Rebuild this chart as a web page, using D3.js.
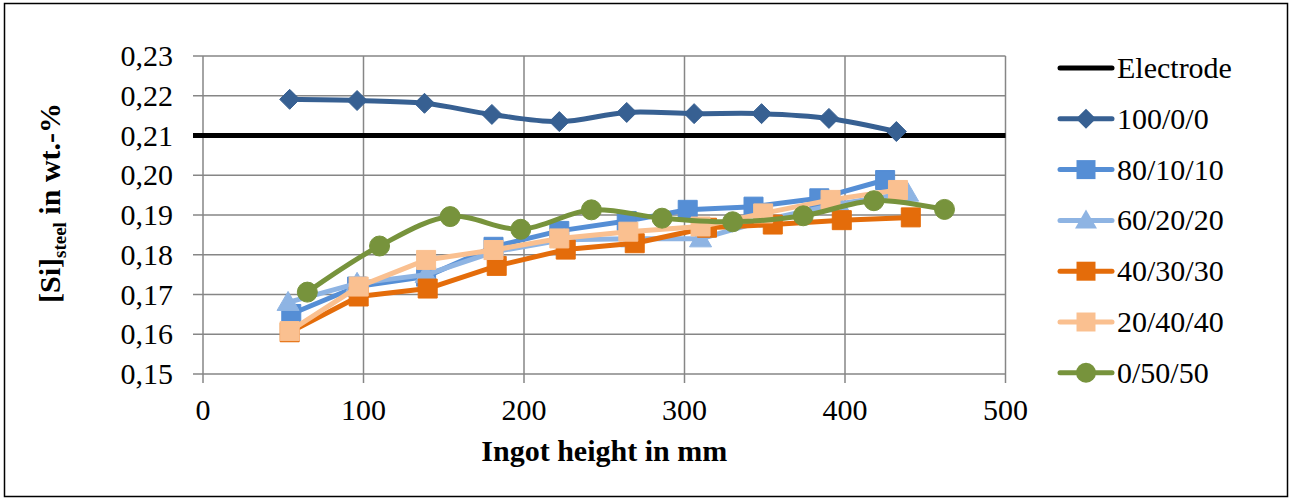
<!DOCTYPE html>
<html><head><meta charset="utf-8">
<script src="https://cdn.jsdelivr.net/npm/d3@7/dist/d3.min.js"></script>
<style>body{margin:0;background:#fff}svg{display:block}</style>
</head><body><svg id="c" width="1292" height="501"></svg>
<script>
// ---- data ----
const xTicks = [0, 100, 200, 300, 400, 500];
const yTicks = [0.15, 0.16, 0.17, 0.18, 0.19, 0.20, 0.21, 0.22, 0.23];
const electrodeX = [0, 500];
const electrodeY = [0.21, 0.21];
const x100_0_0 = [54, 96, 138, 180, 222, 264, 306, 348, 390, 432];
const y100_0_0 = [0.2191, 0.2188, 0.2181, 0.2153, 0.2135, 0.2158, 0.2155, 0.2155, 0.2143, 0.2110];
const x80_10_10 = [55, 96, 139, 181, 222, 264, 302, 343, 384, 425];
const y80_10_10 = [0.1651, 0.1720, 0.1745, 0.1820, 0.1860, 0.1885, 0.1913, 0.1921, 0.1942, 0.1988];
const x60_20_20 = [53, 96, 139, 182, 225, 267, 310, 353, 396, 439];
const y60_20_20 = [0.1680, 0.1728, 0.1750, 0.1808, 0.1838, 0.1840, 0.1840, 0.1890, 0.1928, 0.1955];
const x40_30_30 = [54, 97, 140, 183, 226, 269, 314, 355, 398, 441];
const y40_30_30 = [0.1605, 0.1695, 0.1715, 0.1772, 0.1813, 0.1829, 0.1868, 0.1876, 0.1887, 0.1894];
const x20_40_40 = [54, 97, 139, 181, 222, 265, 310, 349, 391, 433];
const y20_40_40 = [0.1608, 0.1720, 0.1787, 0.1812, 0.1841, 0.1858, 0.1871, 0.1904, 0.1938, 0.1963];
const x0_50_50 = [65, 110, 154, 198, 242, 286, 330, 374, 418, 462];
const y0_50_50 = [0.1706, 0.1822, 0.1896, 0.1864, 0.1913, 0.1892, 0.1883, 0.1898, 0.1936, 0.1914];
const legendLabels = ["Electrode", "100/0/0", "80/10/10", "60/20/20", "40/30/30", "20/40/40", "0/50/50"];

// ---- series table built from arrays ----
const series = [
  {name: legendLabels[0], xs: electrodeX, ys: electrodeY, color: "#000000", marker: "none", smooth: false},
  {name: legendLabels[1], xs: x100_0_0, ys: y100_0_0, color: "#376092", marker: "diamond", smooth: true},
  {name: legendLabels[2], xs: x80_10_10, ys: y80_10_10, color: "#558ED5", marker: "square", smooth: false},
  {name: legendLabels[3], xs: x60_20_20, ys: y60_20_20, color: "#8EB4E3", marker: "triangle", smooth: false},
  {name: legendLabels[4], xs: x40_30_30, ys: y40_30_30, color: "#E46C0A", marker: "square", smooth: false},
  {name: legendLabels[5], xs: x20_40_40, ys: y20_40_40, color: "#FAC090", marker: "square", smooth: false},
  {name: legendLabels[6], xs: x0_50_50, ys: y0_50_50, color: "#77933C", marker: "circle", smooth: true}
];

const svg = d3.select("#c");
const FONT = "'Liberation Serif','Times New Roman',serif";
const grid = "#868686";

svg.append("rect").attr("x", 4.5).attr("y", 3.5).attr("width", 1283).attr("height", 493)
  .attr("fill", "#fff").attr("stroke", "#000").attr("stroke-width", 1.5);

const x = d3.scaleLinear().domain([0, 500]).range([203, 1005.5]);
const y = d3.scaleLinear().domain([0.15, 0.23]).range([374, 56]);

// gridlines
const g = svg.append("g");
g.selectAll(".hg").data(yTicks).join("line")
  .attr("x1", x(0) - 10).attr("x2", x(500))
  .attr("y1", d => y(d)).attr("y2", d => y(d))
  .attr("stroke", grid).attr("stroke-width", 1.5);
g.selectAll(".vg").data(xTicks).join("line")
  .attr("x1", d => x(d)).attr("x2", d => x(d))
  .attr("y1", y(0.23)).attr("y2", y(0.15) + 9)
  .attr("stroke", grid).attr("stroke-width", 1.5);

// tick labels
g.selectAll(".yl").data(yTicks).join("text")
  .attr("x", 173).attr("y", d => y(d) + 10)
  .attr("text-anchor", "end").attr("font-family", FONT).attr("font-size", 30)
  .text(d => d3.format(".2f")(d).replace(".", ","));
g.selectAll(".xl").data(xTicks).join("text")
  .attr("x", d => x(d)).attr("y", 420)
  .attr("text-anchor", "middle").attr("font-family", FONT).attr("font-size", 30)
  .text(d => d);

// axis titles
svg.append("text").attr("x", x(250)).attr("y", 461)
  .attr("text-anchor", "middle").attr("font-family", FONT).attr("font-size", 30)
  .attr("font-weight", "bold").text("Ingot height in mm");
const yt = svg.append("text")
  .attr("transform", "translate(60,203) rotate(-90)")
  .attr("text-anchor", "middle").attr("font-family", FONT).attr("font-size", 30)
  .attr("font-weight", "bold");
yt.append("tspan").text("[Si]");
yt.append("tspan").attr("font-size", 19).attr("dy", 6).text("steel");
yt.append("tspan").attr("dy", -6).text(" in wt.-%");

// marker shapes
function markerPath(type) {
  if (type === "diamond") return "M0,-10L10,0L0,10L-10,0Z";
  if (type === "square") return "M-9.5,-9.5H9.5V9.5H-9.5Z";
  if (type === "triangle") return "M0,-11L11,8L-11,8Z";
  if (type === "circle") return d3.symbol(d3.symbolCircle, Math.PI * 100)();
  return null;
}

// series
series.forEach(s => {
  const pts = s.xs.map((v, i) => [v, s.ys[i]]);
  const gen = d3.line().x(d => x(d[0])).y(d => y(d[1]))
    .curve(s.smooth ? d3.curveCatmullRom.alpha(0.5) : d3.curveLinear);
  const sg = svg.append("g");
  if (s.marker === "none") {
    // the reference line also covers the y-axis tick at its value
    sg.append("line").attr("x1", x(0) - 10).attr("x2", x(0))
      .attr("y1", y(s.ys[0])).attr("y2", y(s.ys[0]))
      .attr("stroke", s.color).attr("stroke-width", 5);
  }
  sg.append("path").attr("d", gen(pts)).attr("fill", "none")
    .attr("stroke", s.color).attr("stroke-width", 5).attr("stroke-linejoin", "round")
    .attr("stroke-linecap", s.marker === "none" ? "butt" : "round");
  if (s.marker !== "none") {
    sg.selectAll("path.m").data(pts).join("path").attr("class", "m")
      .attr("d", markerPath(s.marker))
      .attr("transform", d => `translate(${x(d[0])},${y(d[1])})`)
      .attr("fill", s.color).attr("stroke", s.color).attr("stroke-width", 1);
  }
});

// legend
const lg = svg.append("g");
series.forEach((s, i) => {
  const cy = 68 + i * 50.8;
  lg.append("line").attr("x1", 1060).attr("x2", 1112).attr("y1", cy).attr("y2", cy)
    .attr("stroke", s.color).attr("stroke-width", 5).attr("stroke-linecap", "round");
  if (s.marker !== "none") {
    lg.append("path").attr("d", markerPath(s.marker))
      .attr("transform", `translate(1086,${cy})`).attr("fill", s.color);
  }
  lg.append("text").attr("x", 1117).attr("y", cy + 10)
    .attr("font-family", FONT).attr("font-size", 30).text(s.name);
});
</script></body></html>
